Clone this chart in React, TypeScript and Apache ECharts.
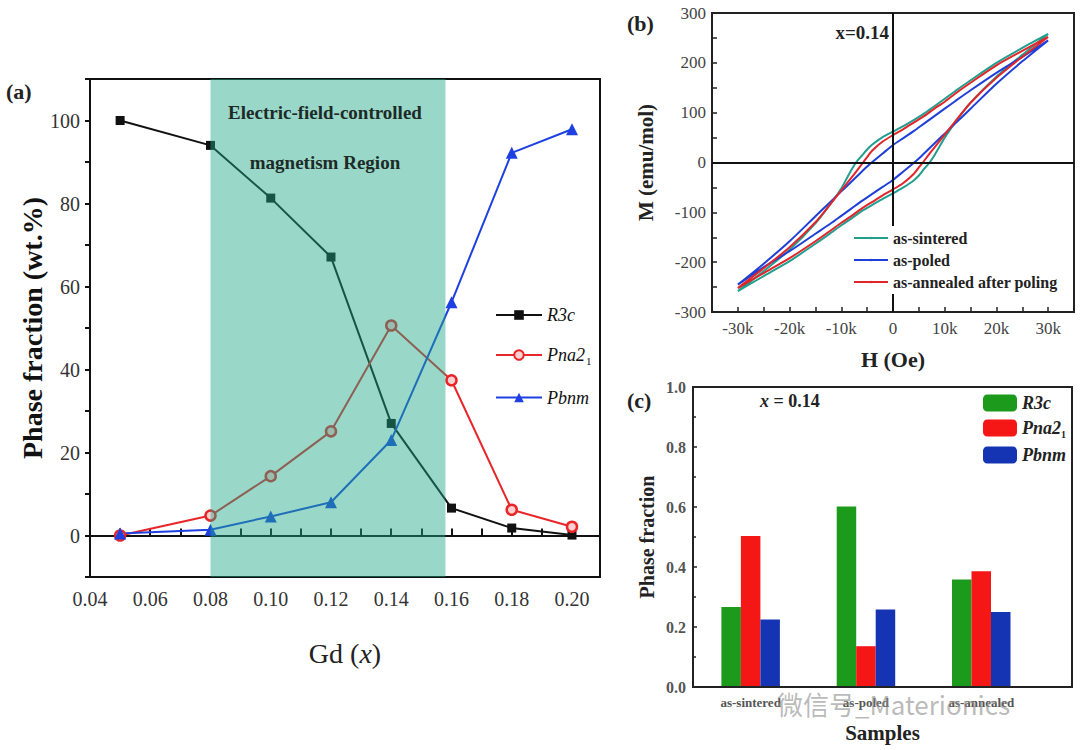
import React, { useEffect, useRef } from 'react';
import * as echarts from 'echarts';

// ---------- Panel (a): phase fraction vs Gd content ----------
const gdX = [0.05, 0.08, 0.10, 0.12, 0.14, 0.16, 0.18, 0.20];
const r3cA = [100, 94, 81.3, 67.1, 27, 6.6, 1.8, 0.1];
const pna21A = [0, 4.8, 14.3, 25.1, 50.6, 37.4, 6.2, 2.1];
const pbnmA = [0.5, 1.4, 4.6, 8.0, 23.0, 56.2, 92.2, 97.9];
const regionRange = [0.08, 0.158];
const regionLines = ['Electric-field-controlled', 'magnetism Region'];

// ---------- Panel (b): M-H loops (x = 0.14) ----------
const hDown = [30000, 25000, 20000, 15000, 12000, 10000, 8000, 6000, 4000, 2000, 0, -2000, -4000, -5000, -6000, -7000, -8000, -9000, -10000, -12000, -15000, -20000, -25000, -30000];
const hUp = [-30000, -25000, -20000, -15000, -12000, -10000, -8000, -6000, -4000, -2000, 0, 2000, 4000, 5000, 6000, 7000, 8000, 9000, 10000, 12000, 15000, 20000, 25000, 30000];
const sinteredDown = [258, 230, 200, 165, 143, 128, 113, 98, 85, 73, 62, 51, 36, 26, 14, 2, -14, -33, -52, -82, -122, -175, -218, -258];
const sinteredUp = [-258, -228, -198, -163, -141, -126, -112, -97, -85, -73, -62, -50, -36, -26, -13, -1, 14, 32, 50, 80, 120, 172, 216, 258];
const poledDown = [245, 212, 180, 145, 123, 108, 93, 78, 63, 49, 35, 18, 1, -8, -18, -28, -38, -48, -58, -78, -108, -158, -203, -245];
const poledUp = [-245, -210, -178, -143, -122, -107, -92, -77, -63, -49, -35, -18, -1, 8, 18, 28, 38, 48, 58, 78, 108, 158, 203, 245];
const annealedDown = [252, 224, 195, 160, 138, 122, 108, 93, 80, 67, 55, 42, 24, 11, -3, -17, -30, -43, -56, -82, -120, -170, -212, -252];
const annealedUp = [-252, -222, -192, -158, -136, -121, -107, -92, -79, -66, -54, -41, -23, -10, 3, 17, 30, 43, 56, 82, 120, 170, 212, 252];
const loopNames = ['as-sintered', 'as-poled', 'as-annealed after poling'];

// ---------- Panel (c): phase fractions of samples ----------
const samples = ['as-sintered', 'as-poled', 'as-annealed'];
const r3cC = [0.267, 0.602, 0.358];
const pna21C = [0.503, 0.136, 0.386];
const pbnmC = [0.225, 0.258, 0.25];

const SERIF = "'Liberation Serif', 'Times New Roman', serif";

const loopData = (hd: number[], md: number[], hu: number[], mu: number[]) =>
  hd.map((h, i) => [h, md[i]]).concat(hu.map((h, i) => [h, mu[i]]));
const sampleData = (vals: number[]) => vals.map((v, i) => [i, v]);

export default function App() {
  const ref = useRef<HTMLDivElement>(null);

  useEffect(() => {
    const chart = echarts.init(ref.current as HTMLDivElement, null, { renderer: 'svg' });

    const black = '#111';
    const red = '#e8262a';
    const blue = '#1f40e0';
    const teal = '#229e8e';
    const loopBlue = '#1f3fd8';
    const loopRed = '#e0262b';
    const green = '#1c9a1c';
    const barRed = '#f51616';
    const barBlue = '#1434b4';

    const option: any = {
      animation: false,
      backgroundColor: '#fff',
      grid: [
        { left: 90, top: 79, width: 510, height: 498, show: true, borderColor: black, borderWidth: 2, backgroundColor: 'transparent' },
        { left: 712, top: 13, width: 362, height: 299, show: true, borderColor: '#222', borderWidth: 2, backgroundColor: 'transparent' },
        { left: 693, top: 387, width: 379, height: 300, show: true, borderColor: '#222', borderWidth: 2, backgroundColor: 'transparent' },
      ],
      xAxis: [
        {
          gridIndex: 0, type: 'value', min: 0.04, max: 0.2093, interval: 0.01,
          axisLine: { lineStyle: { color: black, width: 2 } },
          axisTick: { inside: true, length: 7, lineStyle: { color: black, width: 2 } },
          axisLabel: {
            margin: 12, fontFamily: SERIF, fontSize: 20, color: '#333',
            formatter: (v: number) => (Math.round(v * 100) % 2 === 0 ? v.toFixed(2) : ''),
          },
          splitLine: { show: false },
          name: 'Gd ({i|x})', nameLocation: 'middle', nameGap: 62,
          nameTextStyle: {
            fontFamily: SERIF, fontSize: 28, color: '#222',
            rich: { i: { fontFamily: SERIF, fontSize: 28, fontStyle: 'italic', color: '#222' } },
          },
        },
        {
          gridIndex: 1, type: 'value', min: -35000, max: 35000, interval: 5000,
          axisLine: { onZero: false, lineStyle: { color: '#222', width: 2 } },
          axisTick: { inside: true, length: 5, lineStyle: { color: '#222', width: 1.5 } },
          axisLabel: {
            margin: 8, fontFamily: SERIF, fontSize: 17, color: '#444',
            formatter: (v: number) => (v % 10000 === 0 && Math.abs(v) <= 30000 ? (v === 0 ? '0' : v / 1000 + 'k') : ''),
          },
          splitLine: { show: false },
          name: 'H (Oe)', nameLocation: 'middle', nameGap: 36,
          nameTextStyle: { fontFamily: SERIF, fontSize: 22, fontWeight: 'bold', color: '#222' },
        },
        {
          gridIndex: 2, type: 'value', min: -0.5, max: 2.787,
          axisLine: { onZero: false, lineStyle: { color: '#222', width: 2 } },
          axisTick: { show: false },
          axisLabel: {
            margin: 9, fontFamily: SERIF, fontSize: 13, fontWeight: 'bold', color: '#555',
            customValues: [0, 1, 2],
            formatter: (v: number) => (Number.isInteger(v) && v >= 0 && v < samples.length ? samples[v] : ''),
          },
          splitLine: { show: false },
          name: 'Samples', nameLocation: 'middle', nameGap: 35,
          nameTextStyle: { fontFamily: SERIF, fontSize: 21, fontWeight: 'bold', color: '#222' },
        },
      ],
      yAxis: [
        {
          gridIndex: 0, type: 'value', min: -10, max: 110, interval: 10,
          axisLine: { lineStyle: { color: black, width: 2 } },
          axisTick: { inside: false, length: 5, lineStyle: { color: black, width: 2 } },
          axisLabel: {
            margin: 10, fontFamily: SERIF, fontSize: 20, color: '#333',
            formatter: (v: number) => (v % 20 === 0 && v >= 0 && v <= 100 ? String(v) : ''),
          },
          splitLine: { show: false },
          name: 'Phase fraction (wt.%)', nameLocation: 'middle', nameGap: 40,
          nameTextStyle: { fontFamily: SERIF, fontSize: 28, fontWeight: 'bold', color: '#111' },
        },
        {
          gridIndex: 1, type: 'value', min: -300, max: 300, interval: 50,
          axisLine: { onZero: false, lineStyle: { color: '#222', width: 2 } },
          axisTick: { inside: true, length: 5, lineStyle: { color: '#222', width: 1.5 } },
          axisLabel: {
            margin: 6, fontFamily: SERIF, fontSize: 17, color: '#444',
            formatter: (v: number) => (v % 100 === 0 ? String(v) : ''),
          },
          splitLine: { show: false },
          name: 'M (emu/mol)', nameLocation: 'middle', nameGap: 56,
          nameTextStyle: { fontFamily: SERIF, fontSize: 21, fontWeight: 'bold', color: '#222' },
        },
        {
          gridIndex: 2, type: 'value', min: 0, max: 1, interval: 0.2,
          axisLine: { onZero: false, lineStyle: { color: '#222', width: 2 } },
          axisTick: { inside: true, length: 4, lineStyle: { color: '#222', width: 1.5 } },
          minorTick: { show: true, splitNumber: 2, length: 3, lineStyle: { color: '#222', width: 1.5 } },
          axisLabel: { margin: 7, fontFamily: SERIF, fontSize: 16, fontWeight: 'bold', color: '#555', formatter: (v: number) => v.toFixed(1) },
          splitLine: { show: false },
          name: 'Phase fraction', nameLocation: 'middle', nameGap: 36,
          nameTextStyle: { fontFamily: SERIF, fontSize: 20, fontWeight: 'bold', color: '#222' },
        },
      ],
      legend: [
        {
          data: ['R3c', 'Pna21', 'Pbnm'], orient: 'vertical', left: 490, top: 301,
          itemWidth: 46, itemHeight: 12, itemGap: 22, selectedMode: false,
          formatter: (n: string) => (n === 'Pna21' ? '{a|Pna2}{s|1}' : '{a|' + n + '}'),
          textStyle: {
            fontFamily: SERIF, fontSize: 18, fontStyle: 'italic', color: '#111',
            rich: {
              a: { fontFamily: SERIF, fontSize: 18, fontStyle: 'italic', color: '#111' },
              s: { fontFamily: SERIF, fontSize: 11, fontStyle: 'normal', color: '#111', padding: [12, 0, 0, 1] },
            },
          },
        },
        {
          data: loopNames, orient: 'vertical', left: 850, top: 226, z: 10,
          itemWidth: 34, itemHeight: 3, itemGap: 6, selectedMode: false,
          backgroundColor: '#fff', padding: [4, 6, 4, 3],
          textStyle: { fontFamily: SERIF, fontSize: 16, fontWeight: 'bold', color: '#222' },
        },
        {
          data: ['c-R3c', 'c-Pna21', 'c-Pbnm'], orient: 'vertical', left: 978, top: 389,
          itemWidth: 34, itemHeight: 17, itemGap: 7, selectedMode: false,
          formatter: (n: string) => (n === 'c-Pna21' ? '{a|Pna2}{s|1}' : '{a|' + n.slice(2) + '}'),
          textStyle: {
            fontFamily: SERIF, fontSize: 18, fontStyle: 'italic', fontWeight: 'bold', color: '#222',
            rich: {
              a: { fontFamily: SERIF, fontSize: 18, fontStyle: 'italic', fontWeight: 'bold', color: '#222' },
              s: { fontFamily: SERIF, fontSize: 10, fontStyle: 'normal', fontWeight: 'bold', color: '#222', padding: [12, 0, 0, 0] },
            },
          },
        },
      ],
      series: [
        {
          name: 'R3c', type: 'line', xAxisIndex: 0, yAxisIndex: 0, z: 3,
          data: gdX.map((x, i) => [x, r3cA[i]]),
          symbol: 'rect', symbolSize: 9,
          lineStyle: { color: black, width: 2 }, itemStyle: { color: black },
        },
        {
          name: 'Pna21', type: 'line', xAxisIndex: 0, yAxisIndex: 0, z: 3,
          data: gdX.map((x, i) => [x, pna21A[i]]),
          symbol: 'circle', symbolSize: 10,
          lineStyle: { color: red, width: 2 }, itemStyle: { color: '#ffd0d0', borderColor: red, borderWidth: 2.5 },
        },
        {
          name: 'Pbnm', type: 'line', xAxisIndex: 0, yAxisIndex: 0, z: 3,
          data: gdX.map((x, i) => [x, pbnmA[i]]),
          symbol: 'triangle', symbolSize: 12,
          lineStyle: { color: blue, width: 2 }, itemStyle: { color: blue },
        },
        {
          type: 'custom', xAxisIndex: 0, yAxisIndex: 0, z: 10, silent: true,
          data: [[regionRange[0], regionRange[1]]],
          encode: { x: [0, 1] },
          renderItem: (_p: any, api: any) => {
            const a = api.coord([api.value(0), 110]);
            const b = api.coord([api.value(1), -10]);
            return {
              type: 'rect',
              shape: { x: a[0], y: a[1], width: b[0] - a[0], height: b[1] - a[1] },
              style: { fill: 'rgba(29,169,135,0.45)' },
            };
          },
        },
        {
          name: loopNames[0], type: 'line', xAxisIndex: 1, yAxisIndex: 1, symbol: 'none', smooth: 0.25,
          data: loopData(hDown, sinteredDown, hUp, sinteredUp),
          lineStyle: { color: teal, width: 2 }, itemStyle: { color: teal },
          markLine: {
            silent: true, symbol: 'none', label: { show: false },
            lineStyle: { color: '#111', width: 2, type: 'solid' },
            data: [{ xAxis: 0 }, { yAxis: 0 }],
          },
        },
        {
          name: loopNames[1], type: 'line', xAxisIndex: 1, yAxisIndex: 1, symbol: 'none', smooth: 0.25,
          data: loopData(hDown, poledDown, hUp, poledUp),
          lineStyle: { color: loopBlue, width: 2 }, itemStyle: { color: loopBlue },
        },
        {
          name: loopNames[2], type: 'line', xAxisIndex: 1, yAxisIndex: 1, symbol: 'none', smooth: 0.25,
          data: loopData(hDown, annealedDown, hUp, annealedUp),
          lineStyle: { color: loopRed, width: 2 }, itemStyle: { color: loopRed },
        },
        {
          name: 'c-R3c', type: 'bar', xAxisIndex: 2, yAxisIndex: 2, data: sampleData(r3cC),
          barWidth: 19.5, barGap: '0%', itemStyle: { color: green },
        },
        {
          name: 'c-Pna21', type: 'bar', xAxisIndex: 2, yAxisIndex: 2, data: sampleData(pna21C),
          barWidth: 19.5, barGap: '0%', itemStyle: { color: barRed },
        },
        {
          name: 'c-Pbnm', type: 'bar', xAxisIndex: 2, yAxisIndex: 2, data: sampleData(pbnmC),
          barWidth: 19.5, barGap: '0%', itemStyle: { color: barBlue },
        },
        {
          // frame of panel (c), drawn from its own coordinate system
          type: 'custom', xAxisIndex: 2, yAxisIndex: 2, z: 50, silent: true,
          data: [[0, 0]], clip: false,
          renderItem: (params: any) => {
            const cs = params.coordSys;
            const x0 = cs.x, y0 = cs.y, x1 = cs.x + cs.width, y1 = cs.y + cs.height;
            return {
              type: 'group',
              children: [
                { type: 'line', shape: { x1: x0, y1: y0, x2: x1, y2: y0 }, style: { stroke: '#222', lineWidth: 2 } },
                { type: 'line', shape: { x1: x1, y1: y0, x2: x1, y2: y1 }, style: { stroke: '#222', lineWidth: 2 } },
                { type: 'line', shape: { x1: x0, y1: y1, x2: x1, y2: y1 }, style: { stroke: '#222', lineWidth: 2 } },
              ],
            };
          },
        },
      ],
      graphic: [
        { type: 'text', left: 6, top: 80, z: 20, style: { text: '(a)', font: `bold 22px ${SERIF}`, fill: '#222' } },
        { type: 'text', left: 627, top: 12, z: 20, style: { text: '(b)', font: `bold 22px ${SERIF}`, fill: '#222' } },
        { type: 'text', left: 627, top: 389, z: 20, style: { text: '(c)', font: `bold 22px ${SERIF}`, fill: '#222' } },
        {
          type: 'text', x: 325, y: 112, z: 20,
          style: { text: regionLines[0], font: `bold 19px ${SERIF}`, fill: '#1d2a26', align: 'center', verticalAlign: 'middle' },
        },
        {
          type: 'text', x: 325, y: 162, z: 20,
          style: { text: regionLines[1], font: `bold 19px ${SERIF}`, fill: '#1d2a26', align: 'center', verticalAlign: 'middle' },
        },
        {
          type: 'text', x: 889, y: 32, z: 20,
          style: { text: 'x=0.14', font: `bold 19px ${SERIF}`, fill: '#222', align: 'right', verticalAlign: 'middle' },
        },
        {
          type: 'text', x: 760, y: 401, z: 20,
          style: {
            text: '{i|x} = 0.14', align: 'left', verticalAlign: 'middle',
            font: `bold 18px ${SERIF}`, fill: '#222',
            rich: { i: { font: `italic bold 18px ${SERIF}`, fill: '#222' } },
          },
        },
        {
          type: 'text', x: 777, y: 703, z: 30,
          style: {
            text: '微信号_Materionics', font: `26px 'Noto Sans CJK SC', 'Noto Sans', sans-serif`,
            fill: 'rgba(140,140,140,0.6)', align: 'left', verticalAlign: 'middle',
          },
        },
      ],
    };

    chart.setOption(option);
    return () => chart.dispose();
  }, []);

  return (
    <div
      ref={ref}
      style={{ position: 'fixed', left: 0, top: 0, width: 1080, height: 750, background: '#fff' }}
    />
  );
}
